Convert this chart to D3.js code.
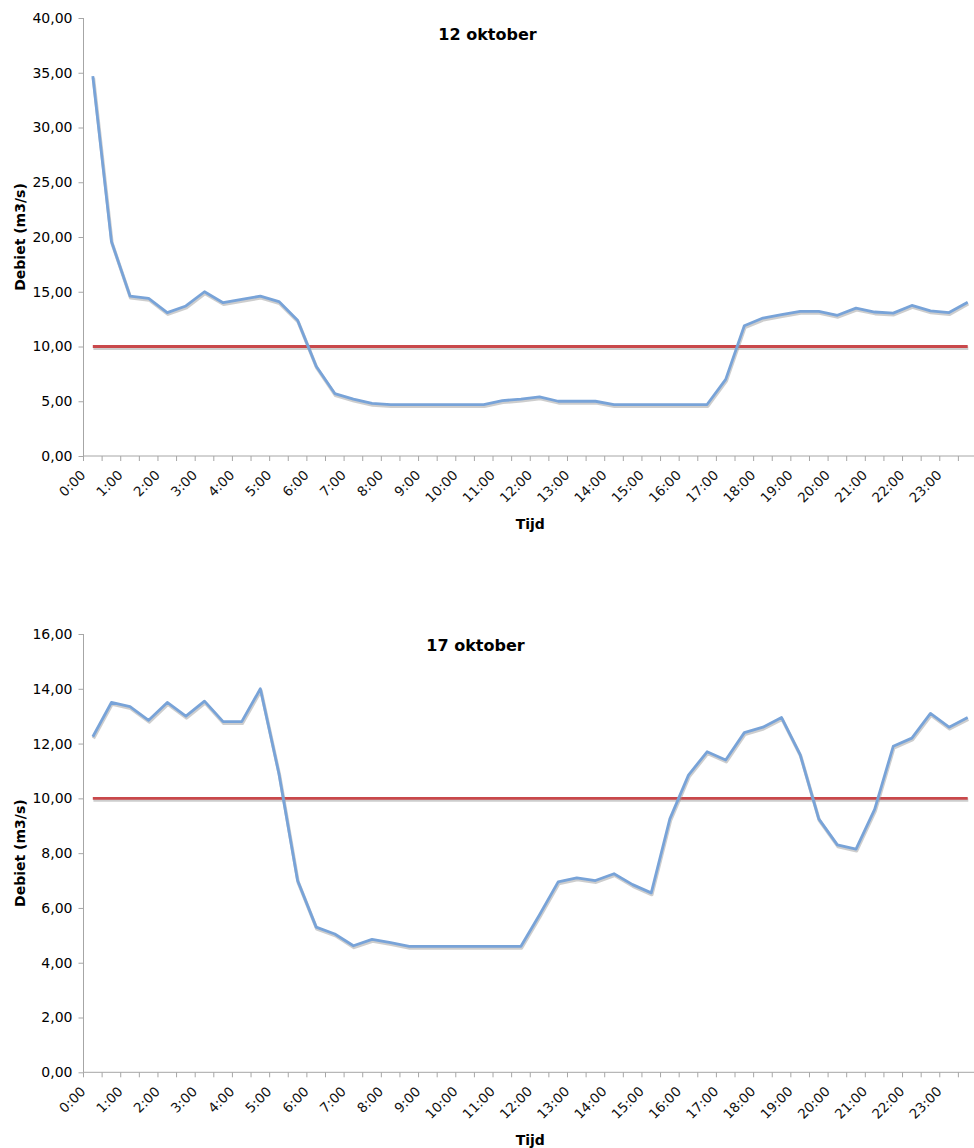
<!DOCTYPE html>
<html>
<head>
<meta charset="utf-8">
<script src="https://cdn.jsdelivr.net/npm/d3@7/dist/d3.min.js"></script>
<style>
  html, body { margin: 0; padding: 0; background: #fff; }
  svg { display: block; font-family: "DejaVu Sans", Verdana, sans-serif; }
</style>
</head>
<body>
<svg id="chart" width="974" height="1148"></svg>
<script>
// Half-hourly time slots
const times = [
  "0:00","0:30","1:00","1:30","2:00","2:30","3:00","3:30",
  "4:00","4:30","5:00","5:30","6:00","6:30","7:00","7:30",
  "8:00","8:30","9:00","9:30","10:00","10:30","11:00","11:30",
  "12:00","12:30","13:00","13:30","14:00","14:30","15:00","15:30",
  "16:00","16:30","17:00","17:30","18:00","18:30","19:00","19:30",
  "20:00","20:30","21:00","21:30","22:00","22:30","23:00","23:30"
];

// Discharge on 12 October (m3/s)
const debiet12 = [
  34.7, 19.6, 14.6, 14.4, 13.1, 13.7, 15.0, 14.0,
  14.3, 14.6, 14.1, 12.4, 8.2, 5.7, 5.2, 4.8,
  4.7, 4.7, 4.7, 4.7, 4.7, 4.7, 5.05, 5.2,
  5.4, 5.0, 5.0, 5.0, 4.7, 4.7, 4.7, 4.7,
  4.7, 4.7, 7.0, 11.9, 12.6, 12.9, 13.2, 13.2,
  12.85, 13.5, 13.15, 13.05, 13.75, 13.25, 13.1, 14.05
];

// Discharge on 17 October (m3/s)
const debiet17 = [
  12.25, 13.5, 13.35, 12.85, 13.5, 13.0, 13.55, 12.8,
  12.8, 14.0, 10.9, 7.0, 5.3, 5.05, 4.62, 4.85,
  4.73, 4.6, 4.6, 4.6, 4.6, 4.6, 4.6, 4.6,
  5.75, 6.95, 7.1, 7.0, 7.25, 6.85, 6.55, 9.25,
  10.85, 11.7, 11.4, 12.4, 12.6, 12.95, 11.6, 9.25,
  8.3, 8.15, 9.6, 11.9, 12.2, 13.1, 12.6, 12.95
];

// Threshold discharge level (m3/s)
const grens = times.map(() => 10);

const ticks12 = [0, 5, 10, 15, 20, 25, 30, 35, 40];
const ticks17 = [0, 2, 4, 6, 8, 10, 12, 14, 16];

const svg = d3.select("#chart");
const fmt = v => d3.format(".2f")(v).replace(".", ",");

function drawChart(cfg) {
  const g = svg.append("g");
  const x = d3.scaleBand().domain(times).range([cfg.left, cfg.right]).padding(0);
  const y = d3.scaleLinear().domain([0, cfg.max]).range([cfg.bottom, cfg.top]);
  const cx = d => x(d) + x.bandwidth() / 2;

  // y axis
  const yAxis = d3.axisLeft(y).tickValues(cfg.ticks).tickFormat(fmt).tickSize(5).tickPadding(6);
  const ya = g.append("g").attr("transform", `translate(${cfg.left},0)`).call(yAxis);
  ya.select(".domain").attr("stroke", "#a6a6a6").attr("d", `M0,${cfg.top}V${cfg.bottom}`);
  ya.selectAll(".tick line").attr("stroke", "#a6a6a6");
  ya.selectAll(".tick text").attr("font-size", 14).attr("fill", "#000")
    .attr("font-family", "'DejaVu Sans', Verdana, sans-serif");

  // x axis: ticks sit between categories
  const xa = g.append("g");
  xa.append("line")
    .attr("x1", cfg.left).attr("x2", cfg.right)
    .attr("y1", cfg.bottom).attr("y2", cfg.bottom)
    .attr("stroke", "#a6a6a6");
  const edges = times.map(t => x(t)).concat([cfg.right]);
  xa.selectAll("line.tk").data(edges).join("line")
    .attr("class", "tk")
    .attr("x1", d => d).attr("x2", d => d)
    .attr("y1", cfg.bottom).attr("y2", cfg.bottom + 5)
    .attr("stroke", "#a6a6a6");
  xa.selectAll("text").data(times.filter((t, i) => i % 2 === 0)).join("text")
    .attr("transform", d => `translate(${cx(d) - 6.5},${cfg.bottom + 20}) rotate(-45)`)
    .attr("text-anchor", "end")
    .attr("font-size", 13.5)
    .attr("fill", "#111")
    .text(d => d);

  // series with a soft shadow below
  const line = d3.line().x((d, i) => cx(times[i])).y(d => y(d));
  const drawSeries = (vals, color) => {
    g.append("path").datum(vals)
      .attr("d", line).attr("fill", "none")
      .attr("stroke", "#9c9c9c").attr("stroke-opacity", 0.5)
      .attr("stroke-width", 3.4).attr("stroke-linejoin", "round")
      .attr("transform", "translate(0.6,1.7)");
    g.append("path").datum(vals)
      .attr("d", line).attr("fill", "none")
      .attr("stroke", color).attr("stroke-width", 2.8)
      .attr("stroke-linejoin", "round");
  };
  drawSeries(grens, "#c9484b");
  drawSeries(cfg.values, "#78a3d8");

  // titles
  g.append("text")
    .attr("x", cfg.titleX).attr("y", cfg.titleY)
    .attr("text-anchor", "middle").attr("font-weight", "bold").attr("font-size", 16)
    .text(cfg.title);
  g.append("text")
    .attr("transform", `translate(25,${(cfg.top + cfg.bottom) / 2}) rotate(-90)`)
    .attr("text-anchor", "middle").attr("font-weight", "bold").attr("font-size", 14)
    .text("Debiet (m3/s)");
  g.append("text")
    .attr("x", (cfg.left + cfg.right) / 2).attr("y", cfg.bottom + 73)
    .attr("text-anchor", "middle").attr("font-weight", "bold").attr("font-size", 14)
    .text("Tijd");
}

drawChart({
  values: debiet12, max: 40, ticks: ticks12, title: "12 oktober",
  left: 83.5, right: 977, top: 18, bottom: 456, titleX: 487.5, titleY: 40
});
drawChart({
  values: debiet17, max: 16, ticks: ticks17, title: "17 oktober",
  left: 83.5, right: 977, top: 634, bottom: 1072.3, titleX: 475.5, titleY: 650.5
});
</script>
</body>
</html>
